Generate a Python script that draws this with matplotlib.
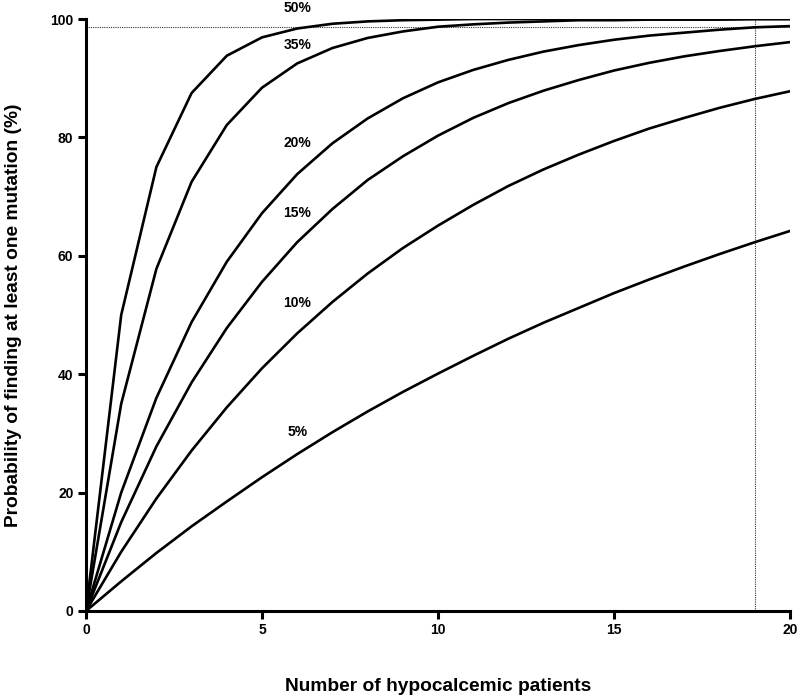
import matplotlib
matplotlib.use("Agg")
import matplotlib.pyplot as plt

plt.rcParams["font.family"] = ["Liberation Sans", "DejaVu Sans"]
plt.rcParams["font.weight"] = "bold"

# patients 0..20
N = list(range(21))

# probability (%) of finding at least one mutation, read per integer n
P50 = [0, 50, 75, 87.5, 93.8, 96.9, 98.4, 99.2, 99.6, 99.8, 99.9, 100, 100, 100,
       100, 100, 100, 100, 100, 100, 100]
P35 = [0, 35, 57.8, 72.5, 82.1, 88.4, 92.5, 95.1, 96.8, 97.9, 98.7, 99.1, 99.4,
       99.6, 99.8, 99.8, 99.9, 99.9, 99.9, 100, 100]
P20 = [0, 20, 36, 48.8, 59, 67.2, 73.8, 79, 83.2, 86.6, 89.3, 91.4, 93.1, 94.5,
       95.6, 96.5, 97.2, 97.7, 98.2, 98.6, 98.8]
P15 = [0, 15, 27.8, 38.6, 47.8, 55.6, 62.3, 67.9, 72.8, 76.8, 80.3, 83.3, 85.8,
       87.9, 89.7, 91.3, 92.6, 93.7, 94.6, 95.4, 96.1]
P10 = [0, 10, 19, 27.1, 34.4, 41, 46.9, 52.2, 57, 61.3, 65.1, 68.6, 71.8, 74.6,
       77.1, 79.4, 81.5, 83.3, 85, 86.5, 87.8]
P05 = [0, 5, 9.8, 14.3, 18.5, 22.6, 26.5, 30.2, 33.7, 37, 40.1, 43.1, 46, 48.7,
       51.2, 53.7, 56, 58.2, 60.3, 62.3, 64.2]

SERIES = [P50, P35, P20, P15, P10, P05]
LABELS = ["50%", "35%", "20%", "15%", "10%", "5%"]
LABEL_X = [6.0, 6.0, 6.0, 6.0, 6.0, 6.0]
LABEL_Y = [101.9, 95.6, 79.0, 67.2, 52.0, 30.2]

# reference lines: 19 patients -> 98.6 %
REF_N = 19
REF_P = 98.6

fig = plt.figure(figsize=(8, 6.97), dpi=100)
ax = fig.add_axes([0.1075, 0.1234, 0.88, 0.8493])

for ys in SERIES:
    ax.plot(N, ys, color="black", linewidth=1.9, zorder=3, solid_joinstyle="miter")

for lbl, lx, ly in zip(LABELS, LABEL_X, LABEL_Y):
    ax.text(lx, ly, lbl, fontsize=10, fontweight="bold", ha="center",
            va="center", clip_on=False)

ax.plot([0, 20], [REF_P, REF_P], color="#333333", linewidth=0.8,
        linestyle=(0, (1, 1)), zorder=2)
ax.plot([REF_N, REF_N], [0, 100], color="#333333", linewidth=0.8,
        linestyle=(0, (1, 1)), zorder=2)

ax.set_xlim(0, 20)
ax.set_ylim(0, 100)
ax.set_xticks([0, 5, 10, 15, 20])
ax.set_yticks([0, 20, 40, 60, 80, 100])
for s in ["top", "right"]:
    ax.spines[s].set_visible(False)
for s in ["left", "bottom"]:
    ax.spines[s].set_linewidth(2.2)
ax.tick_params(direction="out", length=6, width=2.2, labelsize=10, pad=3)
for t in ax.get_xticklabels() + ax.get_yticklabels():
    t.set_fontweight("bold")

ax.set_xlabel("Number of hypocalcemic patients", fontsize=13.8, fontweight="bold",
              labelpad=29)
ax.set_ylabel("Probability of finding at least one mutation (%)", fontsize=13.8,
              fontweight="bold", labelpad=20)

fig.savefig("out.png", dpi=100)
